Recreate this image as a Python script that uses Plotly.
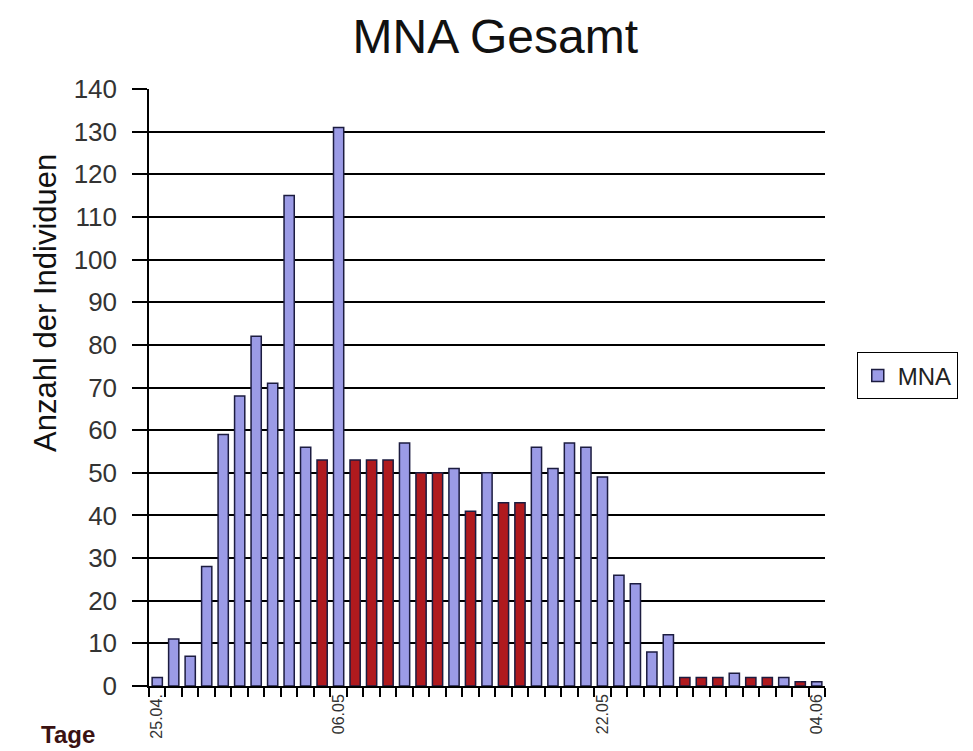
import plotly.graph_objects as go

# ---- data ----
days = [
    "25.04", "26.04", "27.04", "28.04", "29.04", "30.04",
    "01.05", "02.05", "03.05", "04.05", "05.05", "06.05", "07.05", "08.05",
    "09.05", "10.05", "11.05", "12.05", "13.05", "14.05", "15.05", "16.05",
    "17.05", "18.05", "19.05", "20.05", "21.05", "22.05", "23.05", "24.05",
    "25.05", "26.05", "27.05", "28.05", "29.05", "30.05", "31.05",
    "01.06", "02.06", "03.06", "04.06",
]
mna = [
    2, 11, 7, 28, 59, 68, 82, 71, 115, 56, 53, 131, 53, 53,
    53, 57, 50, 50, 51, 41, 50, 43, 43, 56, 51, 57, 56, 49,
    26, 24, 8, 12, 2, 2, 2, 3, 2, 2, 2, 1, 1,
]
# 1 = bar drawn in red, 0 = bar drawn in blue
highlight = [
    0, 0, 0, 0, 0, 0, 0, 0, 0, 0, 1, 0, 1, 1,
    1, 0, 1, 1, 0, 1, 0, 1, 1, 0, 0, 0, 0, 0,
    0, 0, 0, 0, 1, 1, 1, 0, 1, 1, 0, 1, 0,
]
shown_labels = {"25.04": "25.04.", "06.05": "06.05", "22.05": "22.05", "04.06": "04.06"}
tick_labels = [shown_labels.get(d, "") for d in days]
y_ticks = list(range(0, 141, 10))

BLUE = "#9b9be6"
RED = "#b01a1e"
bar_colors = [RED if h else BLUE for h in highlight]

fig = go.Figure()
fig.add_trace(go.Bar(
    x=days, y=mna, name="MNA", showlegend=True,
    marker=dict(color=bar_colors, line=dict(color="#1c1c40", width=1.5)),
))

fig.update_layout(
    width=965, height=743,
    paper_bgcolor="white", plot_bgcolor="white",
    margin=dict(l=141, r=148, t=81, b=65),
    bargap=0.38,
    font=dict(family="Liberation Sans, Arial, sans-serif", color="#222"),
    title=dict(text="MNA Gesamt", x=0.505, xanchor="center", y=0.962, yanchor="middle",
               font=dict(size=48, color="#111")),
    legend=dict(x=1.047, y=0.559, xanchor="left", yanchor="top",
                bordercolor="black", borderwidth=1, bgcolor="white",
                font=dict(size=24, color="#222")),
    xaxis=dict(
        type="category", tickmode="array", tickvals=days, ticktext=tick_labels,
        tickangle=-90, tickson="boundaries", ticks="outside", ticklen=9,
        tickcolor="black", tickwidth=1.5, showline=True, linecolor="black", linewidth=1.5,
        showgrid=False, tickfont=dict(size=16, color="#333"),
    ),
    yaxis=dict(
        range=[0, 140], tickvals=y_ticks, ticks="outside", ticklen=15,
        tickcolor="black", tickwidth=1.5, showline=True, linecolor="black", linewidth=1.5,
        showgrid=True, gridcolor="black", gridwidth=1.5, zeroline=False,
        ticklabelstandoff=10,
        tickfont=dict(size=26, color="#333"),
    ),
)

fig.add_annotation(
    text="Anzahl der Individuen", xref="paper", yref="paper",
    x=-0.154, y=0.6415, xanchor="center", yanchor="middle", textangle=-90,
    showarrow=False, font=dict(size=31, color="#111"),
)

fig.add_annotation(
    text="<b>Tage</b>", xref="paper", yref="paper",
    x=-0.12, y=-0.082, xanchor="center", yanchor="middle", showarrow=False,
    font=dict(size=24, color="#3a1212"),
)

fig.write_html("out.html")
